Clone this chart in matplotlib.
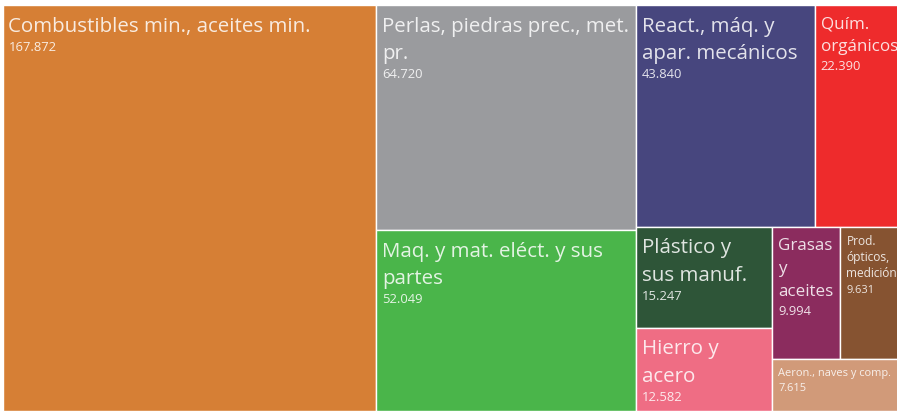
import math
import matplotlib
matplotlib.use("Agg")
import matplotlib.pyplot as plt
from matplotlib.patches import Rectangle

# data
labels = [
    "Combustibles min., aceites min.",
    "Perlas, piedras prec., met.\npr.",
    "Maq. y mat. eléct. y sus\npartes",
    "React., máq. y\napar. mecánicos",
    "Quím.\norgánicos",
    "Plástico y\nsus manuf.",
    "Hierro y\nacero",
    "Grasas\ny\naceites",
    "Prod.\nópticos,\nmedición",
    "Aeron., naves y comp.",
]
values = [167872, 64720, 52049, 43840, 22390, 15247, 12582, 9994, 9631, 7615]
colors = ["#d67f35", "#9a9b9e", "#4ab54a", "#47467e", "#ee2b2c",
          "#2e5538", "#ef6d84", "#8b2c5e", "#865331", "#d19a79"]
label_px = [20.5, 20.5, 20.5, 20.5, 17, 20.5, 20.5, 17, 12, 11]


def squarify(vals, x0, y0, x1, y1, ratio=(1 + math.sqrt(5)) / 2):
    # d3 style squarified layout, returns (x, y, w, h) per value
    out = [None] * len(vals)
    value = float(sum(vals))
    i0 = i1 = 0
    n = len(vals)
    while i0 < n:
        dx, dy = x1 - x0, y1 - y0
        s = vals[i1]; i1 += 1
        vmin = vmax = s
        alpha = max(dy / dx, dx / dy) / (value * ratio)
        beta = s * s * alpha
        best = max(vmax / beta, beta / vmin)
        while i1 < n:
            v = vals[i1]
            s += v
            lo, hi = min(vmin, v), max(vmax, v)
            beta = s * s * alpha
            r = max(hi / beta, beta / lo)
            if r > best:
                s -= v
                break
            best, vmin, vmax = r, lo, hi
            i1 += 1
        row = range(i0, i1)
        if dx < dy:
            # row across the top
            h = dy * s / value
            xx = x0
            for k in row:
                w = dx * vals[k] / s
                out[k] = (xx, y0, w, h)
                xx += w
            y0 += h
        else:
            # column on the left
            w = dx * s / value
            yy = y0
            for k in row:
                h = dy * vals[k] / s
                out[k] = (x0, yy, w, h)
                yy += h
            x0 += w
        value -= s
        i0 = i1
    return out


W, H = 897, 412
fig = plt.figure(figsize=(W / 100, H / 100), dpi=100)
ax = fig.add_axes([0, 0, 1, 1])
ax.set_xlim(0, W)
ax.set_ylim(H, 0)
ax.axis("off")

rects = squarify(values, 2.5, 5, 906, 411)

for (x, y, w, h), lab, val, c, fpx in zip(rects, labels, values, colors, label_px):
    ax.add_patch(Rectangle((x, y), w, h, facecolor=c, edgecolor="white", lw=1))
    lines = lab.split("\n")
    base = y + fpx + 6
    for ln in lines:
        ax.text(x + 6, base, ln, fontsize=fpx * 0.72, family="Open Sans",
                color="white", alpha=0.85, va="baseline", ha="left", clip_on=True)
        base += fpx * 1.36
    base -= fpx * 1.36
    vpx = 13 if fpx >= 16 else 11
    ax.text(x + 6, base + min(19, fpx + 4), f"{val:,}".replace(",", "."),
            fontsize=vpx * 0.72, family="Open Sans", color="white", alpha=0.85,
            va="baseline", ha="left", clip_on=True)

fig.savefig("out.png", dpi=100)
